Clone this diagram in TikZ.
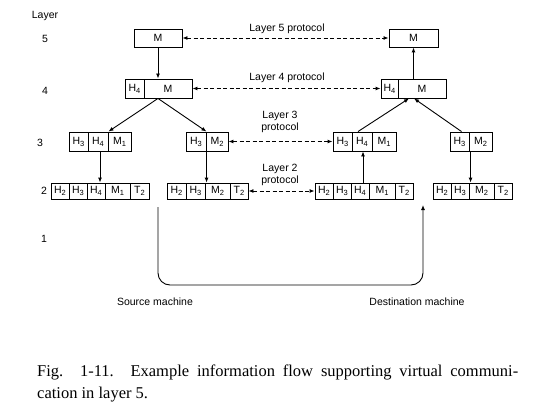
\documentclass[tikz,border=0pt]{standalone}
\usepackage{fontspec}
\setmainfont{Liberation Serif}
\setsansfont{Liberation Sans}
\usetikzlibrary{arrows.meta,calc}
\newcommand\lsub[1]{\raisebox{-0.35ex}{\fontsize{7.5}{8}\selectfont #1}}
\begin{document}
\begin{tikzpicture}[x=1pt,y=-1pt,
  diag/.style={font=\sffamily\fontsize{10.5}{12.5}\selectfont},
  lbl/.style={diag,inner sep=0pt},
  cell/.style={diag,draw,line width=0.9pt,inner sep=0pt,minimum height=19pt},
  low/.style={minimum height=16pt},
  tipa/.tip={Latex[length=5pt,width=4pt]},
  flow/.style={line width=0.9pt,-tipa},
  proto/.style={line width=0.9pt,dash pattern=on 4pt off 2.5pt,tipa-tipa},
  captext/.style={anchor=base west,inner sep=0pt,font=\fontsize{16.5}{19}\selectfont}]
\useasboundingbox (0,0) rectangle (559,417);
% layer numbers
\node[lbl] (tlayer) at (45,16) {Layer};
\node[lbl] (t5) at (45,39) {5};
\node[lbl] (t4) at (45,91) {4};
\node[lbl] (t3) at (40,143) {3};
\node[lbl] (t2) at (44,191) {2};
\node[lbl] (t1) at (44,239) {1};
% layer 5
\node[cell,minimum height=18pt,minimum width=48pt] (a5) at (158,38) {M};
\node[cell,minimum height=18pt,minimum width=49pt] (b5) at (413.5,38) {M};
% layer 4
\node[cell,minimum width=19pt] (a4h) at (134.5,88.5) {H\lsub{4}};
\node[cell,minimum width=48pt] (a4m) at (168,88.5) {M};
\node[cell,minimum width=17pt] (b4h) at (389.5,88.5) {H\lsub{4}};
\node[cell,minimum width=48pt] (b4m) at (422,88.5) {M};
% layer 3
\node[cell,minimum width=19pt] (a3h3) at (78.5,141.5) {H\lsub{3}};
\node[cell,minimum width=20pt] (a3h4) at (98,141.5) {H\lsub{4}};
\node[cell,minimum width=23pt] (a3m) at (119.5,141.5) {M\lsub{1}};
\node[cell,minimum width=20pt] (a3bh) at (196,141.5) {H\lsub{3}};
\node[cell,minimum width=22pt] (a3bm) at (217,141.5) {M\lsub{2}};
\node[cell,minimum width=19pt] (b3h3) at (342.5,141.5) {H\lsub{3}};
\node[cell,minimum width=20pt] (b3h4) at (362,141.5) {H\lsub{4}};
\node[cell,minimum width=24pt] (b3m) at (384,141.5) {M\lsub{1}};
\node[cell,minimum width=19pt] (b3bh) at (459.5,141.5) {H\lsub{3}};
\node[cell,minimum width=23pt] (b3bm) at (480.5,141.5) {M\lsub{2}};
% layer 2
\node[cell,low,minimum width=18pt] (a2h2) at (60,191) {H\lsub{2}};
\node[cell,low,minimum width=18pt] (a2h3) at (78,191) {H\lsub{3}};
\node[cell,low,minimum width=18pt] (a2h4) at (96,191) {H\lsub{4}};
\node[cell,low,minimum width=25pt] (a2m) at (117.5,191) {M\lsub{1}};
\node[cell,low,minimum width=19pt] (a2t) at (139.5,191) {T\lsub{2}};
\node[cell,low,minimum width=19pt] (a2bh2) at (176.5,191) {H\lsub{2}};
\node[cell,low,minimum width=19pt] (a2bh3) at (195.5,191) {H\lsub{3}};
\node[cell,low,minimum width=25pt] (a2bm) at (217.5,191) {M\lsub{2}};
\node[cell,low,minimum width=18pt] (a2bt) at (239,191) {T\lsub{2}};
\node[cell,low,minimum width=18pt] (b2h2) at (324,191) {H\lsub{2}};
\node[cell,low,minimum width=18pt] (b2h3) at (342,191) {H\lsub{3}};
\node[cell,low,minimum width=18pt] (b2h4) at (360,191) {H\lsub{4}};
\node[cell,low,minimum width=26pt] (b2m) at (382,191) {M\lsub{1}};
\node[cell,low,minimum width=18pt] (b2t) at (404,191) {T\lsub{2}};
\node[cell,low,minimum width=18pt] (b2bh2) at (442,191) {H\lsub{2}};
\node[cell,low,minimum width=18pt] (b2bh3) at (460,191) {H\lsub{3}};
\node[cell,low,minimum width=25pt] (b2bm) at (481.5,191) {M\lsub{2}};
\node[cell,low,minimum width=18pt] (b2bt) at (503,191) {T\lsub{2}};
% protocol labels
\node[lbl] (p5) at (287,29) {Layer 5 protocol};
\node[lbl] (p4) at (287,78) {Layer 4 protocol};
\node[lbl,align=center] (p3) at (280,122) {Layer 3\\protocol};
\node[lbl,align=center] (p2) at (280,175) {Layer 2\\protocol};
% peer protocols
\draw[proto] (a5.east) -- (b5.west);
\draw[proto] (a4m.east) -- (b4h.west);
\draw[proto] (a3bm.east) -- (b3h3.west);
\draw[proto] (a2bt.east) -- (b2h2.west);
% source side flow
\draw[flow] (a5.south) -- (a5.south |- a4m.north);
\draw[flow] ([xshift=-10pt]a4m.south) -- (a3h4.north east);
\draw[flow] ([xshift=-10pt]a4m.south) -- (a3bh.north east);
\draw[flow] ([xshift=2pt]a3h4.south) -- ([xshift=2pt]a3h4.south |- a2h4.north);
\draw[flow] ([xshift=1pt]a3bm.south west) -- ([xshift=1pt]a3bm.south west |- a2bm.north);
% destination side flow
\draw[flow] ([xshift=3pt]b2h4.north) -- ([xshift=3pt]b2h4.north |- b3h4.south);
\draw[flow] ([xshift=2pt]b3bm.south west) -- ([xshift=2pt]b3bm.south west |- b2bm.north) ;
\draw[flow] ([xshift=-4pt]b3h4.north) -- ([xshift=-13pt]b4m.south);
\draw[flow] ([xshift=2pt]b3bh.north) -- ([xshift=-8pt]b4m.south);
\draw[flow] (b5.south |- b4m.north) -- (b5.south);
% physical medium
\coordinate (src) at (158,207);
\coordinate (dst) at (423,205);
\coordinate (floor) at (0,285);
\draw[flow,rounded corners=12pt] (src) -- (src |- floor) -- (dst |- floor) -- (dst);
\node[lbl] (srcm) at (155,302) {Source machine};
\node[lbl] (dstm) at (417,302) {Destination machine};
% caption
\node[captext] (cap1) at (37,376) {\makebox[481pt][s]{Fig. 1-11. Example information flow supporting virtual communi-}};
\node[captext] (cap2) at (37,398) {cation in layer 5.};
\end{tikzpicture}
\end{document}
